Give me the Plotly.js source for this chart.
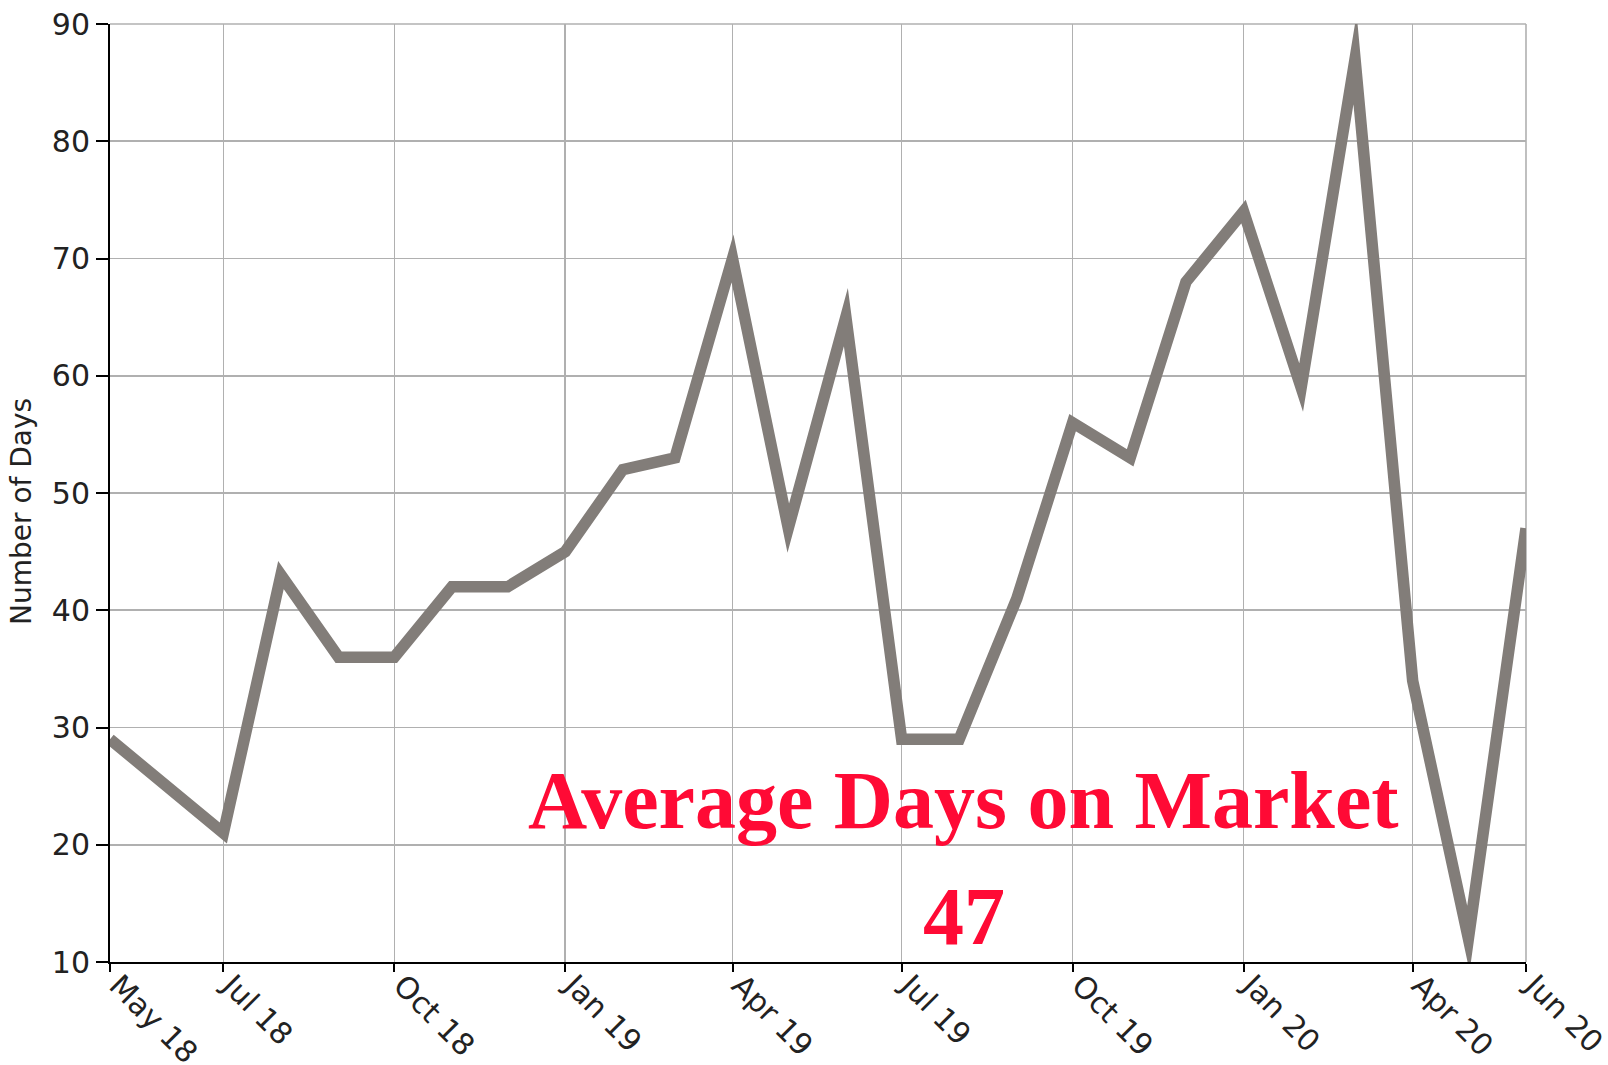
<!DOCTYPE html>
<html>
<head>
<meta charset="utf-8">
<script src="https://cdn.plot.ly/plotly-3.0.1.min.js"></script>
<style>
html, body { margin: 0; padding: 0; background: #ffffff; }
#chart { width: 1608px; height: 1065px; }
path.js-line { stroke-linejoin: miter !important; stroke-miterlimit: 40 !important; }
</style>
</head>
<body>
<div id="chart"></div>
<script>
// Months (first of each month) May 2018 - Jun 2020
const months = [
  '2018-05-01','2018-06-01','2018-07-01','2018-08-01','2018-09-01','2018-10-01',
  '2018-11-01','2018-12-01','2019-01-01','2019-02-01','2019-03-01','2019-04-01',
  '2019-05-01','2019-06-01','2019-07-01','2019-08-01','2019-09-01','2019-10-01',
  '2019-11-01','2019-12-01','2020-01-01','2020-02-01','2020-03-01','2020-04-01',
  '2020-05-01','2020-06-01'
];
// Average days on market
const daysOnMarket = [
  29, 25, 21, 43, 36, 36,
  42, 42, 45, 52, 53, 70,
  47, 65, 29, 29, 41, 56,
  53, 68, 74, 59, 87, 34,
  12, 47
];
// Axis tick positions and labels
const xTickVals = ['2018-05-01','2018-07-01','2018-10-01','2019-01-01','2019-04-01',
                   '2019-07-01','2019-10-01','2020-01-01','2020-04-01','2020-06-01'];
const xTickText = ['May 18','Jul 18','Oct 18','Jan 19','Apr 19',
                   'Jul 19','Oct 19','Jan 20','Apr 20','Jun 20'];
const yTickVals = [10, 20, 30, 40, 50, 60, 70, 80, 90];
const yTitle = 'Number of Days';
const headline = 'Average Days on Market';
const currentValue = '47';

const trace = {
  type: 'scatter',
  mode: 'lines',
  x: months,
  y: daysOnMarket,
  line: { color: '#827d79', width: 11.5 },
  hoverinfo: 'skip'
};

const gridColor = '#b0b0b0';

const layout = {
  width: 1608,
  height: 1065,
  margin: { l: 110, r: 82, t: 24, b: 103 },
  paper_bgcolor: '#ffffff',
  plot_bgcolor: '#ffffff',
  showlegend: false,
  font: { family: 'DejaVu Sans, sans-serif', color: '#222222' },
  xaxis: {
    type: 'date',
    range: ['2018-05-01', '2020-06-01'],
    tickmode: 'array',
    tickvals: xTickVals,
    ticktext: xTickText,
    tickangle: 45,
    tickfont: { family: 'DejaVu Sans, sans-serif', size: 30, color: '#222222' },
    ticks: 'outside',
    ticklen: 8,
    tickwidth: 2,
    tickcolor: '#000000',
    ticklabelstandoff: -16,
    ticklabelshift: 8,
    ticklabeloverflow: 'allow',
    showline: true,
    linecolor: '#000000',
    linewidth: 2,
    showgrid: true,
    gridcolor: gridColor,
    gridwidth: 1.6,
    zeroline: false,
    automargin: false,
    fixedrange: true
  },
  yaxis: {
    range: [10, 90],
    tickmode: 'array',
    tickvals: yTickVals,
    tickfont: { family: 'DejaVu Sans, sans-serif', size: 30, color: '#222222' },
    ticks: 'outside',
    ticklen: 12,
    tickwidth: 2,
    tickcolor: '#000000',
    ticklabeloverflow: 'allow',
    showline: true,
    linecolor: '#000000',
    linewidth: 2,
    showgrid: true,
    gridcolor: gridColor,
    gridwidth: 1.6,
    zeroline: false,
    automargin: false,
    fixedrange: true
  },
  shapes: [
    { type: 'line', xref: 'paper', yref: 'paper', x0: 1, x1: 1, y0: 0, y1: 1,
      line: { color: gridColor, width: 1.6 }, layer: 'below' },
    { type: 'line', xref: 'paper', yref: 'paper', x0: 0, x1: 1, y0: 1, y1: 1,
      line: { color: gridColor, width: 1.6 }, layer: 'below' }
  ],
  annotations: [
    {
      xref: 'paper', yref: 'paper',
      x: -0.062, y: 0.48,
      xanchor: 'center', yanchor: 'middle',
      textangle: -90,
      text: yTitle,
      showarrow: false,
      font: { family: 'DejaVu Sans, sans-serif', size: 28, color: '#222222' }
    },
    {
      xref: 'paper', yref: 'paper',
      x: 0.603, y: 0.172,
      xanchor: 'center', yanchor: 'middle',
      text: '<b>' + headline + '</b>',
      showarrow: false,
      font: { family: 'Liberation Serif, Times New Roman, serif', size: 82, color: '#ff0a35' }
    },
    {
      xref: 'paper', yref: 'paper',
      x: 0.603, y: 0.049,
      xanchor: 'center', yanchor: 'middle',
      text: '<b>' + currentValue + '</b>',
      showarrow: false,
      font: { family: 'Liberation Serif, Times New Roman, serif', size: 82, color: '#ff0a35' }
    }
  ]
};

Plotly.newPlot('chart', [trace], layout, { staticPlot: true, displayModeBar: false });
</script>
</body>
</html>
